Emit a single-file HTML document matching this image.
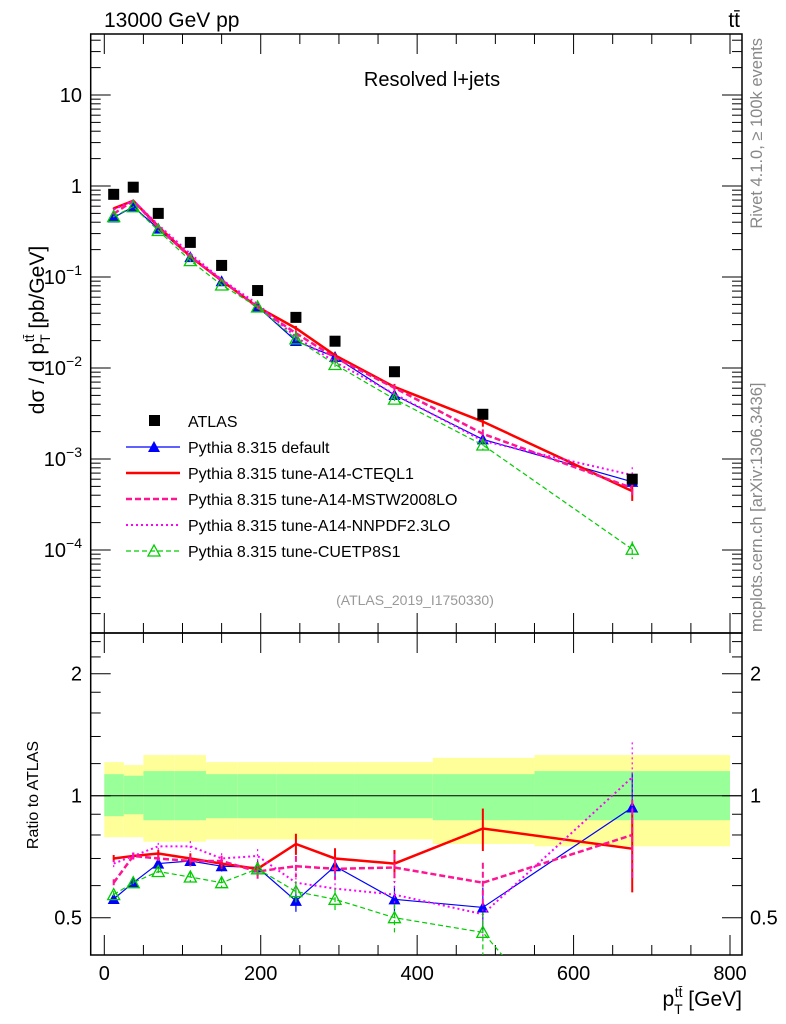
<!DOCTYPE html>
<html><head><meta charset="utf-8"><style>
html,body{margin:0;padding:0;background:#fff;overflow:hidden;width:786px;height:1024px;}
svg{display:block;font-family:"Liberation Sans",sans-serif;}
</style></head><body>
<svg id="c" width="786" height="1024" viewBox="0 0 786 1024" xmlns="http://www.w3.org/2000/svg">
<text x="104" y="27" font-size="21">13000 GeV pp</text>
<text x="740" y="27" font-size="21" text-anchor="end">tt̄</text>
<text x="432" y="86" font-size="20" text-anchor="middle">Resolved l+jets</text>
<text x="415" y="605" font-size="14" fill="#999" text-anchor="middle">(ATLAS_2019_I1750330)</text>
<text transform="translate(762,38) rotate(-90)" font-size="16.5" fill="#888" text-anchor="end">Rivet 4.1.0, ≥ 100k events</text>
<text transform="translate(762,632) rotate(-90)" font-size="16.5" fill="#888">mcplots.cern.ch [arXiv:1306.3436]</text>
<text transform="translate(44,330) rotate(-90)" font-size="21" text-anchor="middle">dσ / d p<tspan font-size="14" dy="6">T</tspan><tspan font-size="14" dy="-16" dx="-8">tt̄</tspan><tspan dy="10"> [pb/GeV]</tspan></text>
<text transform="translate(38,795) rotate(-90)" font-size="16" text-anchor="middle">Ratio to ATLAS</text>
<text x="742" y="1006" font-size="21" text-anchor="end">p<tspan font-size="14" dy="8">T</tspan><tspan font-size="14" dy="-17" dx="-8">tt̄</tspan><tspan dy="9"> [GeV]</tspan></text>
<g id="main"></g><g id="ratio"></g><g id="legend"></g>
</svg>
<script>
const xs=[12,37,69,110,150,196,245,295,371,484,675];
const binEdges=[0,25,50,90,130,170,220,270,320,420,550,800];
const atlas=[0.81,0.97,0.50,0.24,0.134,0.071,0.036,0.0197,0.0091,0.0031,0.0006];
const rDefault=[0.556,0.61,0.68,0.69,0.67,0.665,0.55,0.67,0.555,0.53,0.935];
const rCTEQ=[0.70,0.71,0.72,0.70,0.68,0.66,0.76,0.70,0.68,0.83,0.74];
const rMSTW=[0.61,0.71,0.70,0.69,0.69,0.65,0.67,0.66,0.665,0.61,0.80];
const rNNPDF=[0.68,0.71,0.75,0.75,0.70,0.71,0.61,0.59,0.57,0.51,1.11];
const rCUETP=[0.57,0.61,0.65,0.63,0.61,0.66,0.58,0.555,0.50,0.46,0.17];
const relErr=[0.02,0.02,0.02,0.03,0.03,0.04,0.06,0.06,0.08,0.12,0.22];
const bandYelUp=[1.21,1.19,1.26,1.26,1.21,1.21,1.21,1.21,1.21,1.24,1.26];
const bandYelDn=[0.79,0.79,0.77,0.77,0.78,0.78,0.78,0.78,0.78,0.76,0.75];
const bandGrnUp=[1.13,1.12,1.15,1.15,1.13,1.13,1.13,1.13,1.13,1.13,1.15];
const bandGrnDn=[0.89,0.90,0.87,0.87,0.88,0.88,0.88,0.88,0.88,0.87,0.87];
const NS='http://www.w3.org/2000/svg';
const X=v=>104.3+v*(730-104.3)/800;
const Ym=v=>186-91*Math.log10(v);
const Yr=r=>795.7-122*Math.log2(r);
const FL=90.7,FR=742,FT=34,FM=633,FB=955;
function el(p,t,a){const e=document.createElementNS(NS,t);for(const k in a)e.setAttribute(k,a[k]);p.appendChild(e);return e;}
const main=document.getElementById('main'),ratio=document.getElementById('ratio'),leg=document.getElementById('legend');
const clipR=el(ratio,'clipPath',{id:'cr'});el(clipR,'rect',{x:FL,y:FM,width:FR-FL,height:FB-FM});
const clipM=el(main,'clipPath',{id:'cm'});el(clipM,'rect',{x:FL,y:FT,width:FR-FL,height:FM-FT});
for(let i=0;i<xs.length;i++){
 const x0=X(binEdges[i]),w=X(binEdges[i+1])-x0;
 let b=el(ratio,'rect',{x:x0,y:Yr(bandYelUp[i]),width:w,height:Yr(bandYelDn[i])-Yr(bandYelUp[i]),fill:'#ffff99'});
 
 b=el(ratio,'rect',{x:x0,y:Yr(bandGrnUp[i]),width:w,height:Yr(bandGrnDn[i])-Yr(bandGrnUp[i]),fill:'#99ff99'});
 
}
let one=el(ratio,'line',{x1:FL,x2:FR,y1:Yr(1),y2:Yr(1),stroke:'#000','stroke-width':1});

let f=el(main,'rect',{x:FL,y:FT,width:FR-FL,height:FM-FT,fill:'none',stroke:'#000','stroke-width':1.5});

f=el(ratio,'rect',{x:FL,y:FM,width:FR-FL,height:FB-FM,fill:'none',stroke:'#000','stroke-width':1.5});

for(let v=0;v<=800;v+=50){const maj=v%200==0;const L=maj?20:10;
 el(main,'line',{x1:X(v),x2:X(v),y1:FT,y2:FT+L,stroke:'#000'});
 el(main,'line',{x1:X(v),x2:X(v),y1:FM,y2:FM-L,stroke:'#000'});
 el(ratio,'line',{x1:X(v),x2:X(v),y1:FM,y2:FM+L,stroke:'#000'});
 el(ratio,'line',{x1:X(v),x2:X(v),y1:FB,y2:FB-L,stroke:'#000'});
 if(maj){const t=el(ratio,'text',{x:X(v),y:980,'font-size':20,'text-anchor':'middle'});t.textContent=v;
 }
}
for(let d=-5;d<=1;d++){for(let m=1;m<10;m++){const v=m*Math.pow(10,d),y=Ym(v);if(y<FT||y>FM)continue;
 const L=m==1?20:10;el(main,'line',{x1:FL,x2:FL+L,y1:y,y2:y,stroke:'#000'});el(main,'line',{x1:FR,x2:FR-L,y1:y,y2:y,stroke:'#000'});
 if(m==1){const t=el(main,'text',{x:82,y:y+7,'font-size':20,'text-anchor':'end'});
  if(d>=0)t.textContent=String(Math.pow(10,d));else{t.textContent='10';const s=el(t,'tspan',{dy:-9,'font-size':14});s.textContent='−'+(-d);}
  }
}}
const rTicks=[0.5,0.6,0.7,0.8,0.9,1,1.2,1.4,1.6,1.8,2,2.2,2.4];
const rLabels=['0.5','1','2'];
rTicks.forEach(v=>{const y=Yr(v);if(y<FM||y>FB)return;const maj=rLabels.includes(String(v));const L=maj?20:10;
 el(ratio,'line',{x1:FL,x2:FL+L,y1:y,y2:y,stroke:'#000'});el(ratio,'line',{x1:FR,x2:FR-L,y1:y,y2:y,stroke:'#000'});});
rLabels.forEach(s=>{const y=Yr(+s);
 let t=el(ratio,'text',{x:82,y:y+7,'font-size':20,'text-anchor':'end'});t.textContent=s;
 t=el(ratio,'text',{x:750,y:y+7,'font-size':20});t.textContent=s;});
const series=[
 {name:'Pythia 8.315 default',r:rDefault,c:'#0000ff',w:1.2,dash:'',mk:'tri'},
 {name:'Pythia 8.315 tune-A14-CTEQL1',r:rCTEQ,c:'#ff0000',w:2.5,dash:'',mk:'none'},
 {name:'Pythia 8.315 tune-A14-MSTW2008LO',r:rMSTW,c:'#ff1493',w:2.5,dash:'6,3',mk:'none'},
 {name:'Pythia 8.315 tune-A14-NNPDF2.3LO',r:rNNPDF,c:'#ff00ff',w:2,dash:'2,3',mk:'none'},
 {name:'Pythia 8.315 tune-CUETP8S1',r:rCUETP,c:'#00cc00',w:1.2,dash:'5,3',mk:'otri'}];
function marker(g,mk,c,x,y){
 if(mk=='tri')el(g,'path',{d:`M${x-6},${y+5}L${x+6},${y+5}L${x},${y-6}Z`,fill:c});
 if(mk=='otri')el(g,'path',{d:`M${x-6},${y+5}L${x+6},${y+5}L${x},${y-6}Z`,fill:'none',stroke:c,'stroke-width':1.3});
}
series.forEach((s,si)=>{
 const mv=s.r.map((r,i)=>r*atlas[i]);
 for(const [g,Y,vals,cp] of [[main,Ym,mv,'cm'],[ratio,Yr,s.r,'cr']]){
  const grp=el(g,'g',{'clip-path':`url(#${cp})`});
  
  const pts=vals.map((v,i)=>X(xs[i])+','+Y(v)).join(' ');
  const pl=el(grp,'polyline',{points:pts,fill:'none',stroke:s.c,'stroke-width':s.w,'stroke-dasharray':s.dash});
  
  vals.forEach((v,i)=>{const x=X(xs[i]),e=relErr[i];
   el(grp,'line',{x1:x,x2:x,y1:Y(v*(1+e)),y2:Y(v*(1-e)),stroke:s.c,'stroke-width':s.w>2?2:1.2,'stroke-dasharray':s.dash});
   marker(grp,s.mk,s.c,x,Y(v));
  });
 }
});
atlas.forEach((v,i)=>{const r=el(main,'rect',{x:X(xs[i])-5.5,y:Ym(v)-5.5,width:11,height:11,fill:'#000'});
 });
const ly0=421,ldy=26;
let li=el(leg,'g',{});
el(li,'rect',{x:149,y:ly0-6,width:11,height:11,fill:'#000'});
let lt=el(li,'text',{x:188,y:ly0+6,'font-size':16});lt.textContent='ATLAS';
series.forEach((s,i)=>{const y=ly0+ldy*(i+1);const g=el(leg,'g',{});
 
 el(g,'line',{x1:126,x2:180,y1:y,y2:y,stroke:s.c,'stroke-width':s.w,'stroke-dasharray':s.dash});
 marker(g,s.mk,s.c,154,y);
 const t=el(g,'text',{x:188,y:y+6,'font-size':16});t.textContent=s.name;});
</script>
</body></html>
